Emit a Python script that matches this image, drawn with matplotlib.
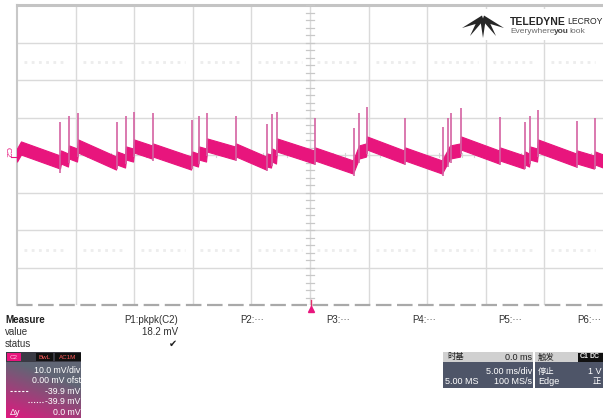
import numpy as np
import matplotlib.pyplot as plt
from matplotlib.patches import Rectangle, Polygon

plt.rcParams['font.family'] = ['Liberation Sans', 'Noto Sans CJK SC', 'DejaVu Sans']

W, H = 603, 418

# ---- acquisition (C2, 10 mV/div, 5 ms/div) ----
# trace envelope centre: time (ms) and level (mV)
trace_t = [-25.0, -24.66, -21.33, -21.25, -20.65, -20.56, -19.88, -19.79,
           -16.55, -16.47, -15.78, -15.70, -15.10, -15.02, -13.48, -13.40,
           -10.15, -10.07, -9.56, -9.47, -8.87, -8.79, -6.40, -6.31,
           -3.75, -3.67, -3.33, -3.24, -2.90, -2.82, 0.34, 0.43,
           3.67, 4.18, 4.78, 4.86, 8.02, 8.11, 11.26, 11.95,
           12.80, 12.88, 16.13, 16.21, 18.26, 18.34, 18.69, 18.77,
           19.37, 19.45, 22.70, 22.78, 24.23, 24.32, 25.0]
trace_v = [0.0, 1.87, -1.87, -0.53, -1.33, 0.80, 0.0, 2.40,
           -2.13, -0.80, -1.60, 0.53, 0.0, 2.40, 0.80, 1.33,
           -2.13, -0.80, -1.33, 0.53, 0.0, 2.67, 0.53, 1.33,
           -2.13, -1.33, -1.60, 0.0, -0.53, 2.67, -0.53, 0.27,
           -3.20, 0.80, 1.33, 3.20, -0.53, 0.27, -3.20, 0.80,
           1.33, 3.20, -0.53, 0.27, -1.87, -0.80, -1.33, 0.53,
           0.0, 2.40, -1.33, -0.53, -1.87, -0.80, -1.60]

# switching spikes: time (ms) and peak (mV)
spike_t = [-21.33, -20.56, -19.79, -16.47, -15.70, -15.02, -13.40, -10.07,
           -9.47, -8.79, -6.31, -3.67, -3.24, -2.82, 0.43, 3.75, 4.18, 4.86,
           8.11, 11.35, 11.77, 12.03, 12.88, 16.21, 18.34, 18.77, 19.45,
           22.78, 24.32]
spike_v = [8.8, 10.4, 11.2, 8.8, 10.4, 11.47, 11.2, 9.33,
           10.4, 11.2, 10.4, 8.27, 10.93, 11.47, 9.87, 7.2, 11.2, 12.8,
           9.87, 7.47, 9.87, 11.2, 12.53, 10.13, 8.8, 10.4, 12.0,
           9.07, 9.87]

time_per_div = 5.0
volt_per_div = 10.0
n_hdiv, n_vdiv = 10, 8

meas_labels = ['P1:pkpk(C2)', 'P2:···', 'P3:···', 'P4:···', 'P5:···', 'P6:···']
meas_value = '18.2 mV'
ch_lines = ['10.0 mV/div', '0.00 mV ofst', '-39.9 mV', '-39.9 mV', '0.0 mV']
tb_lines = ['0.0 ms', '5.00 ms/div', '5.00 MS', '100 MS/s']
trig_lines = ['触发', '停止', 'Edge']

PINK = '#e8157d'
SPIKE = '#d462a2'
GRID = '#dadada'

fig = plt.figure(figsize=(W / 100, H / 100), dpi=100)
fig.patch.set_facecolor('white')


def frac(x, y, w, h):
    return [x / W, 1 - (y + h) / H, w / W, h / H]


# ---- graticule + waveform ----
ax = fig.add_axes(frac(17, 5, 586, 300))
xh = time_per_div * n_hdiv / 2
yh = volt_per_div * n_vdiv / 2
ax.set_xlim(-xh, xh)
ax.set_ylim(-yh, yh)
ax.axis('off')

for k in range(1, n_hdiv):
    ax.axvline(-xh + k * time_per_div, color=GRID, lw=1, zorder=1)
for k in range(1, n_vdiv):
    ax.axhline(-yh + k * volt_per_div, color=GRID, lw=1, zorder=1)
ax.axvline(-xh, color='#c8c8c8', lw=1.5, zorder=1, clip_on=False)
ax.axhline(yh, color='#c4c4c4', lw=2.2, zorder=1, clip_on=False)
ax.axhline(-yh, color='#a9a9a9', lw=1.6, ls=(0, (7, 2.5)), zorder=1, clip_on=False)

# centre-axis minor ticks
for v in np.arange(-yh, yh + 0.1, volt_per_div / 5):
    ax.plot([-0.3, 0.3], [v, v], color='#c8c8c8', lw=0.9, zorder=1)
for t in np.arange(-xh, xh + 0.1, time_per_div / 5):
    ax.plot([t, t], [-0.5, 0.5], color='#d4d4d4', lw=0.8, zorder=1)

# faint annotation rows
for k in range(n_hdiv):
    x0 = -xh + k * time_per_div
    for v in (24.8, -25.3):
        ax.plot([x0 + 0.6, x0 + 4.3], [v, v], color='#ededed', lw=2,
                ls=(0, (1, 1.6)), zorder=1)

tt = np.array(trace_t)
tv = np.array(trace_v)
hw = 1.75
ax.fill_between(tt, tv - hw, tv + hw, color=PINK, lw=0.8, edgecolor=PINK, zorder=3)
base = np.interp(spike_t, tt, tv) - hw - 1.2
ax.vlines(spike_t, base, spike_v, color=SPIKE, lw=1.2, zorder=4)

# ---- overlay in pixel coordinates ----
ov = fig.add_axes([0, 0, 1, 1], zorder=5)
ov.set_xlim(0, W)
ov.set_ylim(H, 0)
ov.axis('off')
ov.patch.set_visible(False)

# channel marker and trigger position
ov.text(7, 152, 'C2', rotation=-90, color=PINK, fontsize=6, ha='center', va='center')
ov.plot([11, 16], [157, 157], color=PINK, lw=0.8)
ov.plot([311, 311], [300, 306], color='#e0306a', lw=1)
ov.plot([311], [309], marker='^', ms=5, color=PINK, mec=PINK)

# logo
ov.add_patch(Rectangle((458, 9), 145, 31, fc='white', ec='none'))
LOGO = '#262626'
for pts in ([(462, 28), (482, 15.5), (484, 21.5)],
            [(504, 28), (484, 15.5), (482, 21.5)],
            [(477, 21), (483, 21), (470, 36)],
            [(483, 21), (489, 21), (496, 36)],
            [(480.5, 21), (485.5, 21), (483, 38)]):
    ov.add_patch(Polygon(pts, closed=True, fc=LOGO, ec='none'))
ov.text(510, 22, 'TELEDYNE', fontsize=7.5, weight='bold', color=LOGO, va='center')
ov.text(567, 22, 'LECROY', fontsize=6.2, color=LOGO, va='center')
t1 = ov.text(510, 35, 'Everywhere', fontsize=6, color='#6a6a6a', va='bottom')
t2 = ov.annotate('you', xy=(1, 0), xycoords=t1, fontsize=6, weight='bold',
                 color='#444444', va='bottom')
ov.annotate('look', xy=(1, 0), xycoords=t2, fontsize=6, color='#6a6a6a', va='bottom')

# measurement table
TXT = '#303030'
ov.text(5, 320, 'Measure', fontsize=7, weight='bold', color='#202020', va='center')
ov.text(5, 332, 'value', fontsize=7, color=TXT, va='center')
ov.text(5, 344, 'status', fontsize=7, color=TXT, va='center')
for i, lab in enumerate(meas_labels):
    ov.text(min(178 + 86 * i, 601), 320, lab, fontsize=7, color=TXT, ha='right', va='center')
ov.text(178, 332, meas_value, fontsize=7, color=TXT, ha='right', va='center')
ov.text(177, 344, '✔', fontsize=7, color='#202020', ha='right', va='center')

# channel descriptor box
cb = fig.add_axes(frac(6, 352, 75, 66), zorder=6)
cb.set_xlim(6, 81)
cb.set_ylim(418, 352)
cb.axis('off')
gx, gy = np.meshgrid(np.linspace(0, 1, 80), np.linspace(0, 1, 70))
s = np.clip(gy * 1.05 + (1 - gx) * 0.45 - 0.55, 0, 1)[..., None]
gray = np.array([0.38, 0.40, 0.46])
pink = np.array([0.90, 0.08, 0.50])
img = gray * (1 - s) + pink * s
cb.imshow(img, extent=(6, 81, 418, 352), aspect='auto', zorder=0)
cb.add_patch(Rectangle((6, 352), 75, 10, fc='#3a3a44', ec='none', zorder=1))
cb.add_patch(Rectangle((7, 353), 14, 8.5, fc=PINK, ec='none', zorder=2))
cb.text(14, 357.5, 'C2', fontsize=4.5, color='#ffc0e0', ha='center', va='center', zorder=3)
cb.add_patch(Rectangle((36, 353), 17, 8.5, fc='#111111', ec='none', zorder=2))
cb.add_patch(Rectangle((55, 353), 26, 8.5, fc='#111111', ec='none', zorder=2))
cb.text(44.5, 357.5, 'BwL', fontsize=4.5, color='#ff5a5a', ha='center', va='center', zorder=3)
cb.text(68, 357.5, 'AC1M', fontsize=4.5, color='#ff5a5a', ha='center', va='center', zorder=3)
for y, txt in zip([371, 381, 391.5, 402, 413], ch_lines):
    cb.text(80.5, y, txt, fontsize=6.3, color='white', ha='right', va='center', zorder=3)
cb.plot([10, 28], [391.5, 391.5], color='white', lw=0.8, ls=(0, (2, 1.5)), zorder=3)
cb.plot([28, 44], [402, 402], color='white', lw=0.8, ls=(0, (1, 1.5)), zorder=3)
cb.text(10, 413, 'Δy', fontsize=6.5, color='white', va='center', zorder=3)

# timebase / trigger boxes
HDR, BODY = '#d0d0d0', '#4e5568'
CJK = ['Noto Sans CJK SC', 'DejaVu Sans']
ov.add_patch(Rectangle((443, 352), 90, 10, fc=HDR, ec='none'))
ov.add_patch(Rectangle((443, 362), 90, 26, fc=BODY, ec='none'))
ov.text(447, 357, '时基', fontsize=6, family=CJK, color='#202020', va='center')
ov.text(532, 357, tb_lines[0], fontsize=6.5, color='#202020', ha='right', va='center')
ov.text(532, 371, tb_lines[1], fontsize=6.5, color='white', ha='right', va='center')
ov.text(445, 381, tb_lines[2], fontsize=6.5, color='white', va='center')
ov.text(532, 381, tb_lines[3], fontsize=6.5, color='white', ha='right', va='center')

ov.add_patch(Rectangle((535, 352), 70, 10, fc=HDR, ec='none'))
ov.add_patch(Rectangle((535, 362), 70, 26, fc=BODY, ec='none'))
ov.add_patch(Rectangle((578, 352.5), 27, 9, fc='#111111', ec='none'))
ov.text(580, 357, 'C1', fontsize=5, weight='bold', color='#f0f0f0', va='center')
ov.text(590, 357, 'DC', fontsize=5, weight='bold', color='#f0f0f0', va='center')
ov.text(538, 357, trig_lines[0], fontsize=6, family=CJK, color='#202020', va='center')
ov.text(538, 371, trig_lines[1], fontsize=6, family=CJK, color='white', va='center')
ov.text(538, 381, trig_lines[2], fontsize=6.5, color='white', va='center')
ov.text(601, 371, '1 V', fontsize=6.5, color='white', ha='right', va='center')
ov.text(601, 381, '正', fontsize=6, family=CJK, color='white', ha='right', va='center')

fig.savefig('out.png', dpi=100)
